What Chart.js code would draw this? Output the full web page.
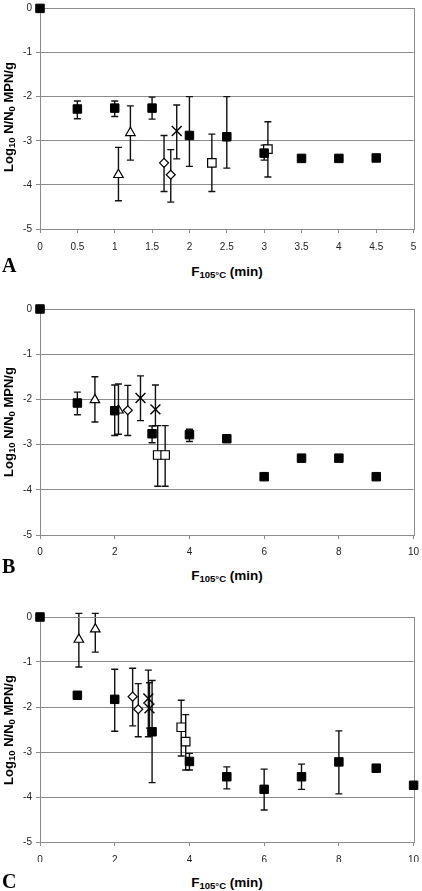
<!DOCTYPE html>
<html>
<head>
<meta charset="utf-8">
<script src="https://cdn.jsdelivr.net/npm/chart.js@4"></script>
<style>
body { margin:0; background:#fff; width:422px; height:891px; position:relative; overflow:hidden; font-family:"Liberation Sans", Arial, sans-serif; color:#000; }
canvas { position:absolute; left:0; }
.ytitle { position:absolute; left:8px; font-weight:bold; font-size:13px; line-height:13px; white-space:nowrap; transform:translate(-50%,-50%) rotate(-90deg); }
.xtitle { position:absolute; left:227px; font-weight:bold; font-size:13.5px; line-height:13px; white-space:nowrap; transform:translateX(-50%); }
sub { font-size:9.5px; vertical-align:-2px; line-height:0; }
.letter { position:absolute; left:2px; font-family:"Liberation Serif", "Times New Roman", serif; font-weight:bold; font-size:20px; line-height:20px; }
</style>
</head>
<body>
<canvas id="chartA" width="422" height="250" style="top:0px"></canvas>
<canvas id="chartB" width="422" height="265" style="top:290px"></canvas>
<canvas id="chartC" width="422" height="262" style="top:600px"></canvas>

<div class="ytitle" style="top:117px">Log<sub>10</sub> N/N<sub>0</sub> MPN/g</div>
<div class="ytitle" style="top:422px">Log<sub>10</sub> N/N<sub>0</sub> MPN/g</div>
<div class="ytitle" style="top:730px">Log<sub>10</sub> N/N<sub>0</sub> MPN/g</div>

<div class="letter" style="top:255px">A</div>
<div class="letter" style="top:556px">B</div>
<div class="letter" style="top:871px">C</div>

<div class="xtitle" style="top:265px">F<sub>105°C</sub> (min)</div>
<div class="xtitle" style="top:569px">F<sub>105°C</sub> (min)</div>
<div class="xtitle" style="top:876px">F<sub>105°C</sub> (min)</div>

<script>
// values; hi/lo = ends of the error bars (null = no bar)

// panel A
const aSqX  = [0, 0.5, 1, 1.5, 2, 2.5, 3, 3.5, 4, 4.5];
const aSqY  = [0, -2.28, -2.26, -2.26, -2.88, -2.91, -3.28, -3.40, -3.40, -3.39];
const aSqHi = [null, -2.10, -2.10, -2.01, -2.00, -2.00, -3.10, null, null, null];
const aSqLo = [null, -2.50, -2.45, -2.51, -3.58, -3.62, -3.44, null, null, null];
const aTriX = [1.05, 1.21];
const aTriY = [-3.77, -2.82];
const aTriHi = [-3.15, -2.21];
const aTriLo = [-4.36, -3.44];
const aDiaX = [1.66, 1.75];
const aDiaY = [-3.50, -3.77];
const aDiaHi = [-2.88, -3.20];
const aDiaLo = [-4.15, -4.39];
const aCrossX = [1.83];
const aCrossY = [-2.78];
const aCrossHi = [-2.19];
const aCrossLo = [-3.41];
const aOpenX = [2.30, 3.05];
const aOpenY = [-3.50, -3.19];
const aOpenHi = [-2.85, -2.57];
const aOpenLo = [-4.15, -3.82];

// panel B
const bSqX  = [0, 1, 2, 3, 4, 5, 6, 7, 8, 9];
const bSqY  = [0, -2.08, -2.25, -2.76, -2.78, -2.87, -3.71, -3.30, -3.30, -3.71];
const bSqHi = [null, -1.84, -1.68, -2.59, -2.66, null, null, null, null, null];
const bSqLo = [null, -2.34, -2.80, -2.96, -2.93, null, null, null, null, null];
const bTriX = [1.47, 2.10];
const bTriY = [-2.01, -2.24];
const bTriHi = [-1.50, -1.66];
const bTriLo = [-2.50, -2.77];
const bDiaX = [2.35];
const bDiaY = [-2.24];
const bDiaHi = [-1.69];
const bDiaLo = [-2.80];
const bCrossX = [2.69, 3.09];
const bCrossY = [-1.97, -2.22];
const bCrossHi = [-1.48, -1.68];
const bCrossLo = [-2.47, -2.58];
const bOpenX = [3.15, 3.35];
const bOpenY = [-3.23, -3.23];
const bOpenHi = [-2.58, -2.58];
const bOpenLo = [-3.92, -3.92];

// panel C
const cSqX  = [0, 1, 2, 3, 4, 5, 6, 7, 8, 9, 10];
const cSqY  = [0, -1.74, -1.83, -2.55, -3.21, -3.55, -3.83, -3.55, -3.22, -3.36, -3.74];
const cSqHi = [null, null, -1.16, -1.41, -3.03, -3.33, -3.38, -3.27, -2.53, null, null];
const cSqLo = [null, null, -2.54, -3.68, -3.40, -3.82, -4.29, -3.83, -3.93, null, null];
const cTriX = [1.04, 1.48];
const cTriY = [-0.50, -0.27];
const cTriHi = [0.08, 0.08];
const cTriLo = [-1.11, -0.78];
const cDiaX = [2.48, 2.63];
const cDiaY = [-1.77, -2.05];
const cDiaHi = [-1.14, -1.48];
const cDiaLo = [-2.42, -2.66];
const cCrossX = [2.90, 2.93];
const cCrossY = [-1.81, -2.03];
const cCrossHi = [-1.18, -1.46];
const cCrossLo = [-2.66, -2.47];
const cOpenX = [3.78, 3.90];
const cOpenY = [-2.45, -2.77];
const cOpenHi = [-1.85, -2.17];
const cOpenLo = [-3.09, -3.40];

const gridColor = '#8c8c8c';
const tickFont = {family: '"Liberation Sans", Arial, sans-serif', size: 10};

// marker looks
const filled   = {pointStyle: 'rect', pointRadius: 6, backgroundColor: '#000', borderWidth: 1};
const triangle = {pointStyle: 'triangle', pointRadius: 5.5, backgroundColor: '#fff'};
const diamond  = {pointStyle: 'rectRot', pointRadius: 4.5, backgroundColor: '#fff'};
const cross    = {pointStyle: 'crossRot', pointRadius: 7, backgroundColor: '#fff', borderWidth: 1.4};
const openSq   = {pointStyle: 'rect', pointRadius: 6, backgroundColor: '#fff'};

function series(xs, ys, hi, lo, look) {
  return Object.assign({
    data: xs.map((x, i) => ({x: x, y: ys[i]})),
    errHi: hi,
    errLo: lo,
    clip: false,
    borderColor: '#000',
    borderWidth: 1.2
  }, look);
}

// error bars, drawn under the markers
const errorBars = {
  id: 'errorBars',
  beforeDatasetsDraw(chart) {
    const ctx = chart.ctx;
    const xs = chart.scales.x, ys = chart.scales.y;
    ctx.save();
    ctx.strokeStyle = '#111';
    ctx.lineWidth = 1.4;
    chart.data.datasets.forEach(ds => {
      ds.data.forEach((p, i) => {
        const hi = ds.errHi[i], lo = ds.errLo[i];
        if (hi == null) return;
        const px = xs.getPixelForValue(p.x);
        const y1 = ys.getPixelForValue(hi);
        const y2 = ys.getPixelForValue(lo);
        ctx.beginPath();
        ctx.moveTo(px, y1); ctx.lineTo(px, y2);
        ctx.moveTo(px - 3.5, y1); ctx.lineTo(px + 3.5, y1);
        ctx.moveTo(px - 3.5, y2); ctx.lineTo(px + 3.5, y2);
        ctx.stroke();
      });
    });
    ctx.restore();
  }
};

// box round the plot area (top and right sides)
const plotBorder = {
  id: 'plotBorder',
  beforeDatasetsDraw(chart) {
    const a = chart.chartArea, ctx = chart.ctx;
    ctx.save();
    ctx.strokeStyle = gridColor;
    ctx.lineWidth = 1;
    ctx.strokeRect(Math.round(a.left) + 0.5, Math.round(a.top) + 0.5,
                   Math.round(a.right - a.left), Math.round(a.bottom - a.top));
    ctx.restore();
  }
};

function makeChart(id, sets, xMax, xStep, padTop, padRight, xHeight, xPad) {
  new Chart(document.getElementById(id), {
    type: 'scatter',
    data: {datasets: sets},
    plugins: [errorBars, plotBorder],
    options: {
      responsive: false,
      animation: false,
      events: [],
      layout: {padding: {top: padTop, right: padRight, left: 0, bottom: 0}},
      plugins: {legend: {display: false}, tooltip: {enabled: false}},
      scales: {
        x: {
          type: 'linear', min: 0, max: xMax,
          ticks: {stepSize: xStep, padding: xPad, color: '#222', font: tickFont, maxRotation: 0, autoSkip: false,
                  callback: v => String(v)},
          grid: {drawOnChartArea: false, drawTicks: true, tickLength: 4, color: gridColor},
          border: {color: gridColor},
          afterFit(s) { s.height = xHeight; s.paddingLeft = 0; s.paddingRight = 0; }
        },
        y: {
          min: -5, max: 0,
          ticks: {stepSize: 1, padding: 4, color: '#222', font: tickFont, callback: v => String(v)},
          grid: {color: gridColor, tickLength: 4},
          border: {color: gridColor},
          afterFit(s) { s.width = 40; s.paddingTop = 0; s.paddingBottom = 0; }
        }
      }
    }
  });
}

makeChart('chartA', [
  series(aSqX, aSqY, aSqHi, aSqLo, filled),
  series(aTriX, aTriY, aTriHi, aTriLo, triangle),
  series(aDiaX, aDiaY, aDiaHi, aDiaLo, diamond),
  series(aCrossX, aCrossY, aCrossHi, aCrossLo, cross),
  series(aOpenX, aOpenY, aOpenHi, aOpenLo, openSq)
], 5, 0.5, 4, 8, 21, 8);

makeChart('chartB', [
  series(bSqX, bSqY, bSqHi, bSqLo, filled),
  series(bTriX, bTriY, bTriHi, bTriLo, triangle),
  series(bDiaX, bDiaY, bDiaHi, bDiaLo, diamond),
  series(bCrossX, bCrossY, bCrossHi, bCrossLo, cross),
  series(bOpenX, bOpenY, bOpenHi, bOpenLo, openSq)
], 10, 2, 19, 6, 20, 7);

makeChart('chartC', [
  series(cSqX, cSqY, cSqHi, cSqLo, filled),
  series(cTriX, cTriY, cTriHi, cTriLo, triangle),
  series(cDiaX, cDiaY, cDiaHi, cDiaLo, diamond),
  series(cCrossX, cCrossY, cCrossHi, cCrossLo, cross),
  series(cOpenX, cOpenY, cOpenHi, cOpenLo, openSq)
], 10, 2, 17, 6, 20, 8);
</script>
</body>
</html>
